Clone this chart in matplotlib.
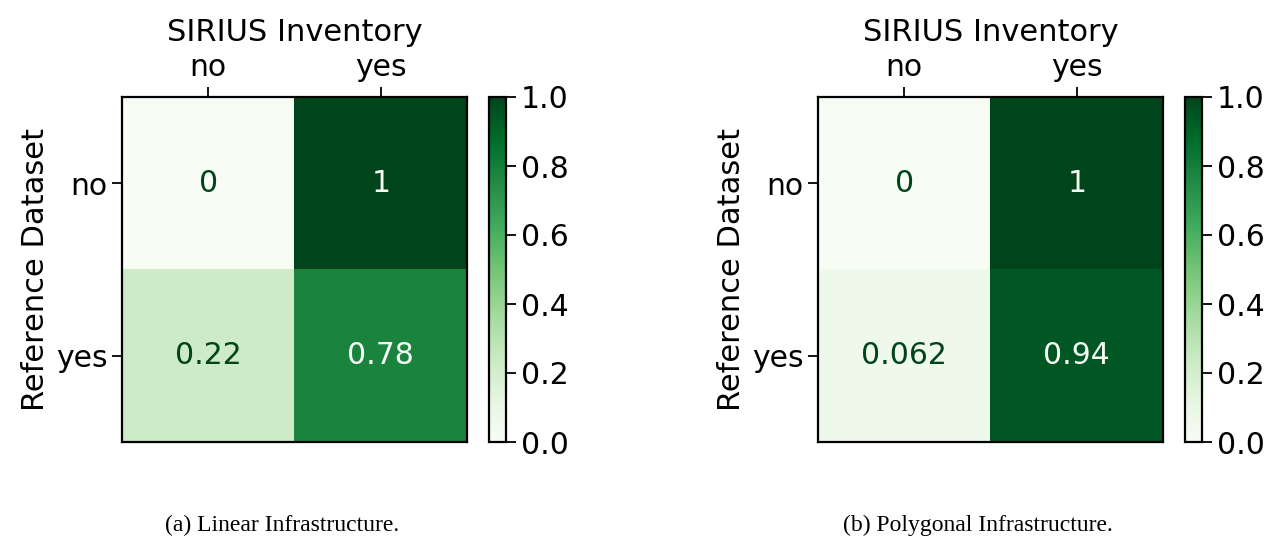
import numpy as np
import matplotlib
matplotlib.use("Agg")
from matplotlib import pyplot as plt

# confusion matrices (rows: reference dataset, cols: SIRIUS inventory)
labels = ["no", "yes"]
linear_cm = [[0.0, 1.0],
             [0.22, 0.78]]
polygonal_cm = [[0.0, 1.0],
                [0.062, 0.94]]
captions = ["(a) Linear Infrastructure.", "(b) Polygonal Infrastructure."]

plt.rcParams.update({
    'font.family': 'DejaVu Sans',
    'font.size': 22,
    'xtick.labelsize': 21.5,
    'ytick.labelsize': 21.5,
    'axes.linewidth': 1.6,
    'xtick.major.width': 1.3,
    'ytick.major.width': 1.3,
    'xtick.major.size': 7,
    'ytick.major.size': 7,
})

W, H = 1271, 541
fig = plt.figure(figsize=(W / 100, H / 100), dpi=100)
cmap = plt.get_cmap("Greens")


def px(x0, y0, x1, y1):
    return [x0 / W, 1 - y1 / H, (x1 - x0) / W, (y1 - y0) / H]


def fmt(v):
    return "%.2g" % v


def draw(cm, left, cap):
    cm = np.array(cm)
    ax = fig.add_axes(px(left, 97, left + 345, 442))
    cax = fig.add_axes(px(left + 367, 97, left + 384, 442))
    im = ax.imshow(cm, cmap=cmap, vmin=0, vmax=1, aspect="auto")
    for i in range(2):
        for j in range(2):
            c = cmap(0.0) if cm[i, j] > 0.5 else cmap(1.0)
            ax.text(j, i, fmt(cm[i, j]), ha="center", va="center",
                    color=c, fontsize=21.5)
    ax.set_xticks(range(2), labels)
    ax.set_yticks(range(2), labels)
    ax.xaxis.tick_top()
    ax.xaxis.set_label_position("top")
    ax.set_xlabel("SIRIUS Inventory", labelpad=9)
    ax.set_ylabel("Reference Dataset")
    cb = fig.colorbar(im, cax=cax)
    cb.set_ticks([0, 0.2, 0.4, 0.6, 0.8, 1.0])
    cb.ax.tick_params(labelsize=21.5)
    cb.outline.set_linewidth(1.6)
    fig.text((left + 160) / W, 1 - 525 / H, cap, ha="center", va="center",
             family="Liberation Serif", fontsize=17)


draw(linear_cm, 122, captions[0])
draw(polygonal_cm, 818, captions[1])

plt.savefig("out.png", dpi=100)
